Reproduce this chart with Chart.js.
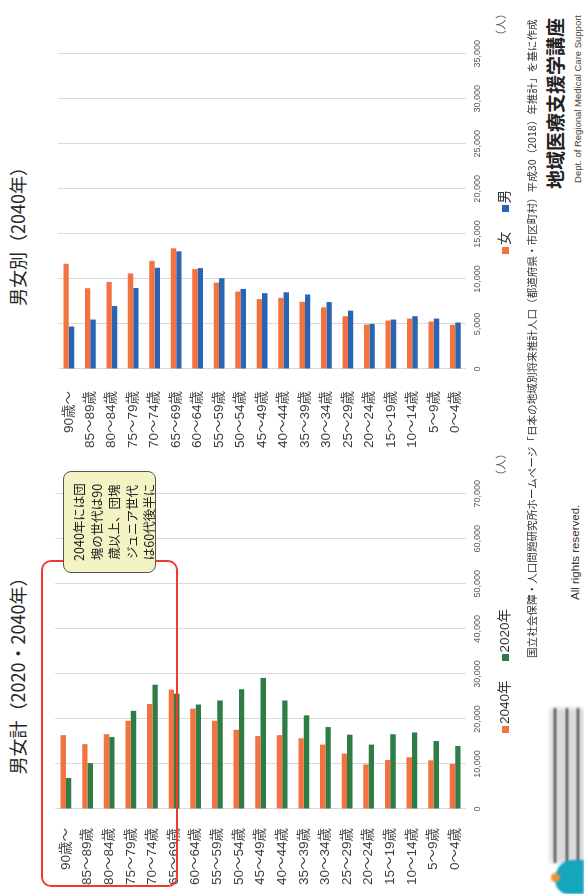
<!DOCTYPE html>
<html lang="ja">
<head>
<meta charset="utf-8">
<script src="https://cdn.jsdelivr.net/npm/chart.js@4.4.1/dist/chart.umd.min.js"></script>
<style>
  html, body { margin: 0; padding: 0; background: #fff; width: 584px; height: 894px; overflow: hidden; }
  /* the slide is laid out in landscape and turned a quarter turn to fit the portrait page */
  #slide {
    position: absolute; left: 0; top: 0; width: 894px; height: 584px;
    transform-origin: 0 0; transform: translate(0, 894px) rotate(-90deg);
    background: #fff; color: #333;
    font-family: "Liberation Sans", "Noto Sans CJK JP", sans-serif;
  }
  .abs { position: absolute; white-space: nowrap; }
  .title { font-family: "Noto Sans CJK JP", sans-serif; font-size: 18px; line-height: 22px; color: #262626; text-align: center; top: 6px; }
  canvas { position: absolute; }
  .legend { position: absolute; display: flex; align-items: center; font-size: 13.5px; line-height: 16px; color: #333; }
  .legend .item { display: flex; align-items: center; margin-right: 19px; }
  .legend .sw { width: 7px; height: 7px; margin-right: 2px; }
  .unit { font-size: 11px; line-height: 14px; color: #595959; font-family: "Noto Sans CJK JP", sans-serif; }
  #focus { position: absolute; left: 7px; top: 41px; width: 323px; height: 133px; border: 2px solid #ee3a30; border-radius: 10px; }
  #note {
    position: absolute; left: 321px; top: 63px; width: 100px; height: 85px; padding-top: 6px;
    background: #f3f3c4; border: 1px solid #555; border-radius: 8px;
    font-family: "Noto Sans CJK JP", sans-serif; font-size: 12.5px; line-height: 17.5px; color: #222; text-align: center;
  }
  #source { font-family: "Noto Sans CJK JP", sans-serif; font-size: 10.6px; line-height: 14px; color: #333; left: 236px; top: 525px; }
  #rights { font-size: 11.5px; line-height: 14px; color: #333; left: 294px; top: 568px; }
  #dept-ja { font-family: "Noto Sans CJK JP", sans-serif; font-weight: bold; font-size: 19px; line-height: 22px; color: #222; right: 18px; top: 544px; }
  #dept-en { font-size: 9.5px; line-height: 11px; color: #444; right: 15px; top: 572px; }
  #logo { position: absolute; left: 0; top: 546px; width: 192px; height: 38px; }
  #logo .stroke { position: absolute; left: 31px; width: 155px; height: 2px; background: #333; filter: blur(0.8px); }
  #logo .haze { position: absolute; left: 31px; top: 4px; width: 155px; height: 34px; background: #9a9a9a; opacity: 0.35; filter: blur(2px); }
  #logo .mark { position: absolute; left: 0; top: 9px; width: 34px; height: 29px; background: #13a6bd; border-radius: 45% 60% 0 0; filter: blur(1px); }
  #logo .dot { position: absolute; left: 12px; top: 5px; width: 9px; height: 9px; background: #f0903a; border-radius: 50%; filter: blur(0.8px); }
</style>
</head>
<body>
<div id="slide">
  <div class="abs title" style="left:100px;width:245px;">男女計（2020・2040年）</div>
  <div class="abs title" style="left:540px;width:244px;">男女別（2040年）</div>

  <canvas id="totalChart" width="420" height="470" style="left:0;top:36px;width:420px;height:470px;"></canvas>
  <canvas id="sexChart" width="420" height="470" style="left:440px;top:36px;width:420px;height:470px;"></canvas>

  <div class="abs unit" style="left:413px;top:493px;">（人）</div>
  <div class="abs unit" style="left:853px;top:493px;">（人）</div>

  <div class="legend" id="totalLegend" style="left:161px;top:497px;"></div>
  <div class="legend" id="sexLegend" style="left:640px;top:497px;"></div>

  <div id="focus"></div>
  <div id="note">2040年には団<br>塊の世代は90<br>歳以上、団塊<br>ジュニア世代<br>は60代後半に</div>

  <div class="abs" id="source">国立社会保障・人口問題研究所ホームページ「日本の地域別将来推計人口（都道府県・市区町村）平成30（2018）年推計」を基に作成</div>
  <div class="abs" id="rights">All rights reserved.</div>
  <div class="abs" id="dept-ja">地域医療支援学講座</div>
  <div class="abs" id="dept-en">Dept. of Regional Medical Care Support</div>

  <div id="logo">
    <div class="haze"></div>
    <div class="stroke" style="top:8px;"></div>
    <div class="stroke" style="top:20px;"></div>
    <div class="stroke" style="top:31px;"></div>
    <div class="mark"></div>
    <div class="dot"></div>
  </div>
</div>

<script>
// age groups, oldest first
const ageGroups = ['90歳～','85～89歳','80～84歳','75～79歳','70～74歳','65～69歳','60～64歳','55～59歳','50～54歳','45～49歳','40～44歳','35～39歳','30～34歳','25～29歳','20～24歳','15～19歳','10～14歳','5～9歳','0～4歳'];

// population, both sexes (people)
const total2040 = [16400,14400,16600,19600,23300,26500,22300,19600,17600,16200,16400,15700,14300,12300,9900,10900,11500,10800,10000];
const total2020 = [6900,10200,16000,21800,27600,25600,23200,24100,26600,29100,24100,20800,18200,16500,14300,16600,17000,15100,14000];

// population by sex, 2040 (people)
const female2040 = [11680,8970,9660,10610,12010,13400,11090,9590,8600,7760,7900,7460,6840,5860,4940,5380,5600,5270,4900];
const male2040   = [4720,5490,6990,9000,11240,13070,11200,10070,8890,8420,8520,8270,7430,6480,5010,5490,5860,5600,5160];

// value-axis ticks
const totalTicks = [0,10000,20000,30000,40000,50000,60000,70000];
const sexTicks   = [0,5000,10000,15000,20000,25000,30000,35000];

const ORANGE = '#f37241';
const GREEN  = '#2e7d47';
const BLUE   = '#2a65b3';

const LATIN = '"Liberation Sans", "Noto Sans CJK JP", sans-serif';

function drawPyramid(canvasId, legendId, series, ticks, labelGap) {
  const chart = new Chart(document.getElementById(canvasId), {
    type: 'bar',
    data: {
      labels: ageGroups,
      datasets: series.map(s => ({
        label: s.label,
        data: s.data,
        backgroundColor: s.color,
        borderWidth: 0,
        categoryPercentage: 0.5,
        barPercentage: 1.0
      }))
    },
    options: {
      indexAxis: 'y',
      responsive: false,
      animation: false,
      events: [],
      layout: { padding: { top: 10, right: 16, left: 0, bottom: 0 } },
      plugins: { legend: { display: false }, tooltip: { enabled: false } },
      scales: {
        x: {
          min: ticks[0],
          max: ticks[ticks.length - 1],
          afterBuildTicks: s => { s.ticks = ticks.map(v => ({ value: v })); },
          afterFit: s => { s.height = 40; },
          grid: { color: '#d9d9d9', lineWidth: 1, drawTicks: false },
          border: { display: false },
          ticks: {
            padding: 6, color: '#595959', maxRotation: 0, autoSkip: false,
            font: { size: 9, family: LATIN },
            callback: v => Number(v).toLocaleString('en-US')
          }
        },
        y: {
          afterFit: s => { s.width = 85; },
          grid: { display: false },
          border: { display: false },
          ticks: {
            padding: labelGap, color: '#404040', autoSkip: false,
            font: { size: 13.5, family: LATIN }
          }
        }
      }
    }
  });

  // legend built from the chart's own datasets
  const box = document.getElementById(legendId);
  chart.data.datasets.forEach(ds => {
    const item = document.createElement('div');
    item.className = 'item';
    const sw = document.createElement('span');
    sw.className = 'sw';
    sw.style.background = ds.backgroundColor;
    const tx = document.createElement('span');
    tx.textContent = ds.label;
    item.appendChild(sw);
    item.appendChild(tx);
    box.appendChild(item);
  });
}

drawPyramid('totalChart', 'totalLegend', [
  { label: '2040年', data: total2040, color: ORANGE },
  { label: '2020年', data: total2020, color: GREEN }
], totalTicks, 11);

drawPyramid('sexChart', 'sexLegend', [
  { label: '女', data: female2040, color: ORANGE },
  { label: '男', data: male2040, color: BLUE }
], sexTicks, 14);
</script>
</body>
</html>
